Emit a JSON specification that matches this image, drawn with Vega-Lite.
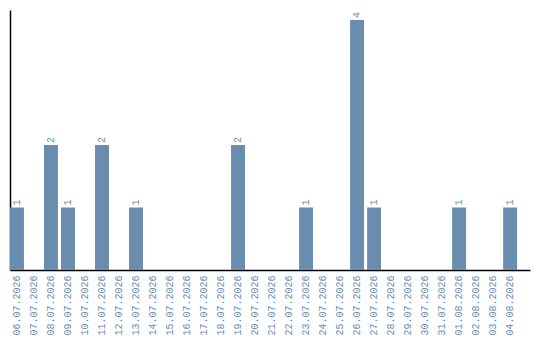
{
  "$schema": "https://vega.github.io/schema/vega-lite/v6.json",
  "autosize": {"type": "none"},
  "width": 520,
  "height": 260,
  "padding": {"left": 10, "top": 10, "right": 10, "bottom": 70},
  "background": "white",
  "config": {
    "view": {"stroke": null},
    "font": "Liberation Mono"
  },
  "data": {
    "values": [
      {"date": "06.07.2026", "count": 1},
      {"date": "07.07.2026", "count": 0},
      {"date": "08.07.2026", "count": 2},
      {"date": "09.07.2026", "count": 1},
      {"date": "10.07.2026", "count": 0},
      {"date": "11.07.2026", "count": 2},
      {"date": "12.07.2026", "count": 0},
      {"date": "13.07.2026", "count": 1},
      {"date": "14.07.2026", "count": 0},
      {"date": "15.07.2026", "count": 0},
      {"date": "16.07.2026", "count": 0},
      {"date": "17.07.2026", "count": 0},
      {"date": "18.07.2026", "count": 0},
      {"date": "19.07.2026", "count": 2},
      {"date": "20.07.2026", "count": 0},
      {"date": "21.07.2026", "count": 0},
      {"date": "22.07.2026", "count": 0},
      {"date": "23.07.2026", "count": 1},
      {"date": "24.07.2026", "count": 0},
      {"date": "25.07.2026", "count": 0},
      {"date": "26.07.2026", "count": 4},
      {"date": "27.07.2026", "count": 1},
      {"date": "28.07.2026", "count": 0},
      {"date": "29.07.2026", "count": 0},
      {"date": "30.07.2026", "count": 0},
      {"date": "31.07.2026", "count": 0},
      {"date": "01.08.2026", "count": 1},
      {"date": "02.08.2026", "count": 0},
      {"date": "03.08.2026", "count": 0},
      {"date": "04.08.2026", "count": 1}
    ]
  },
  "encoding": {
    "x": {
      "field": "date",
      "type": "ordinal",
      "sort": null,
      "scale": {"paddingInner": 0.18, "paddingOuter": 0.38, "align": 0},
      "axis": {
        "title": null,
        "labelAngle": -90,
        "labelFont": "Liberation Mono",
        "labelFontSize": 10,
        "labelColor": "#6a8caf",
        "labelPadding": 5,
        "ticks": false,
        "domainColor": "#000000",
        "domainWidth": 1.5
      }
    },
    "y": {
      "field": "count",
      "type": "quantitative",
      "scale": {"domain": [0, 4.16], "nice": false},
      "axis": {
        "title": null,
        "labels": false,
        "ticks": false,
        "grid": false,
        "domainColor": "#000000",
        "domainWidth": 1.5
      }
    }
  },
  "layer": [
    {
      "mark": {"type": "bar", "color": "#6a8caf"}
    },
    {
      "transform": [{"filter": "datum.count > 0"}],
      "mark": {
        "type": "text",
        "angle": 270,
        "align": "left",
        "baseline": "middle",
        "dx": 2,
        "font": "Liberation Mono",
        "fontSize": 10,
        "color": "#6a8caf"
      },
      "encoding": {"text": {"field": "count", "type": "quantitative"}}
    }
  ]
}
